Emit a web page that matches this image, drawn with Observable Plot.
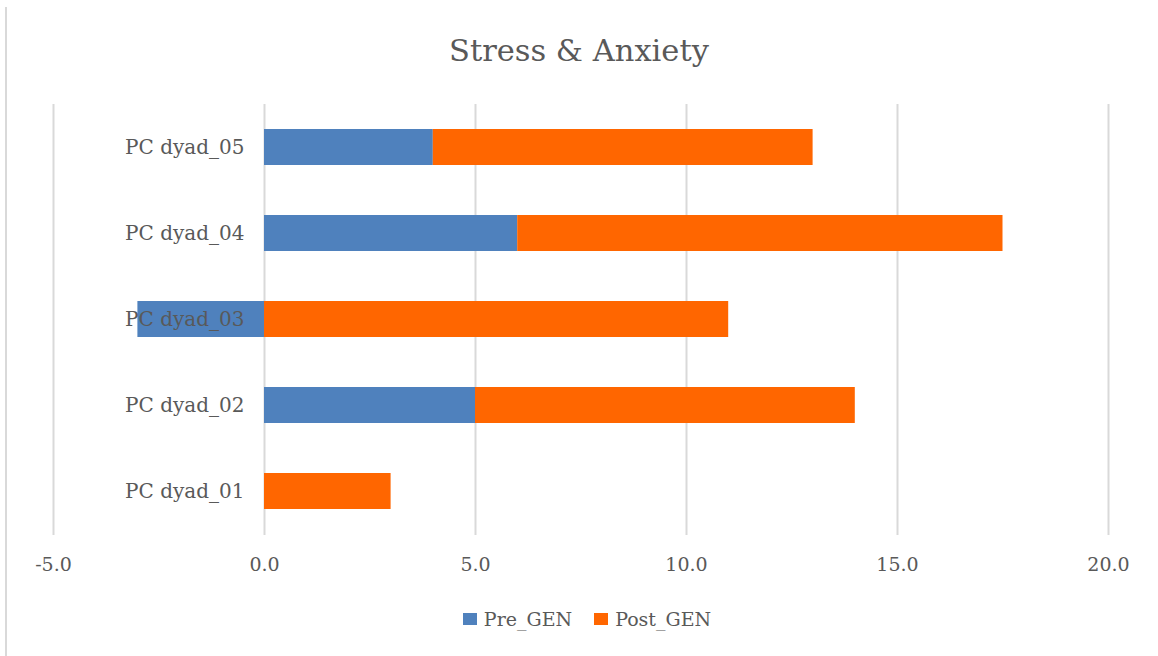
<!DOCTYPE html>
<html><head><meta charset="utf-8">
<script src="https://cdn.jsdelivr.net/npm/d3@7"></script>
<script src="https://cdn.jsdelivr.net/npm/@observablehq/plot@0.6"></script>
<style>
body{margin:0;background:#fff;font-family:"DejaVu Serif",serif;color:#595959}
#wrap{position:relative;width:1158px;height:656px;overflow:hidden;background:#fff}
#border{position:absolute;left:5px;top:7px;width:0;height:660px;border-left:2px solid #d9d9d9}
#title{position:absolute;top:31px;left:0;width:1158px;text-align:center;font-size:30.5px;line-height:40px}
#chart{position:absolute;left:0;top:0}
#legend{position:absolute;top:605px;left:8px;width:1158px;display:flex;justify-content:center;align-items:center;font-size:19px;line-height:28px}
.item{display:flex;align-items:center;margin:0 11px}
.sw{width:14px;height:12px;margin-right:7px}
</style></head>
<body><div id="wrap"><div id="border"></div><div id="chart"></div><div id="title">Stress &amp; Anxiety</div><div id="legend"></div></div>
<script>
const dyads = ["PC dyad_05", "PC dyad_04", "PC dyad_03", "PC dyad_02", "PC dyad_01"];
const preGEN = [4, 6, -3, 5, 0];
const postGEN = [9, 11.5, 11, 9, 3];
const seriesNames = ["Pre_GEN", "Post_GEN"];
const seriesColors = ["#4f81bd", "#ff6600"];
const xTicks = [-5, 0, 5, 10, 15, 20];

const rows = [];
dyads.forEach((d, i) => {
  rows.push({dyad: d, series: seriesNames[0], value: preGEN[i]});
  rows.push({dyad: d, series: seriesNames[1], value: postGEN[i]});
});

const W = 1158, H = 600;
const plot = Plot.plot({
  width: W, height: H,
  marginLeft: 53, marginRight: 50, marginTop: 104, marginBottom: 65,
  style: {fontFamily: '"DejaVu Serif", serif', fontSize: "18px", color: "#595959", background: "transparent"},
  x: {domain: [-5, 20], ticks: xTicks, label: null, tickFormat: d => d.toFixed(1)},
  y: {domain: dyads, paddingInner: 0.58, paddingOuter: 0.29, label: null, axis: null},
  color: {domain: seriesNames, range: seriesColors},
  marks: [
    Plot.gridX(xTicks, {stroke: "#d9d9d9", strokeOpacity: 1, strokeWidth: 2}),
    Plot.axisX(xTicks, {tickSize: 0, tickPadding: 22, label: null, tickFormat: d => d.toFixed(1), fill: "#595959", fontSize: 19}),
    Plot.barX(rows, Plot.stackX({x: "value", y: "dyad", fill: "series", order: seriesNames})),
    Plot.text(dyads, {x: 0, y: d => d, text: d => d, textAnchor: "end", dx: -20, fill: "#595959", fontSize: 20})
  ]
});
document.getElementById("chart").appendChild(plot);

const lg = document.getElementById("legend");
seriesNames.forEach((s, i) => {
  const it = document.createElement("div"); it.className = "item";
  const sw = document.createElement("div"); sw.className = "sw"; sw.style.background = seriesColors[i];
  const t = document.createElement("span"); t.textContent = s;
  it.appendChild(sw); it.appendChild(t); lg.appendChild(it);
});
</script></body></html>
